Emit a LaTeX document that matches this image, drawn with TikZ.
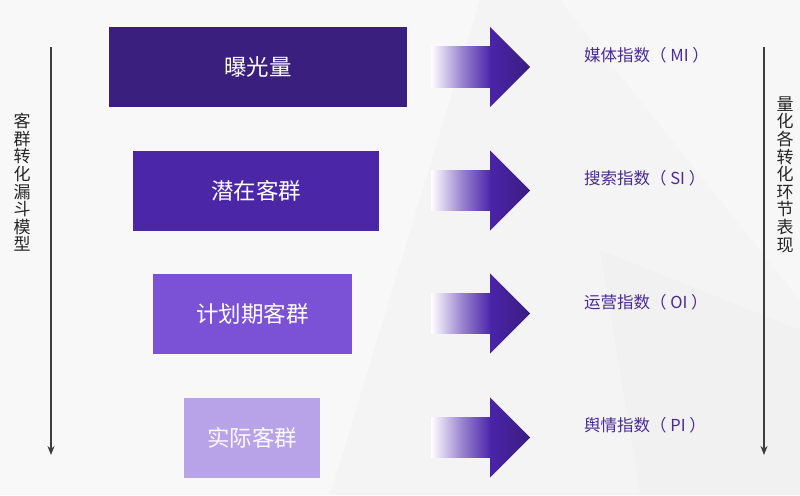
\documentclass[tikz,border=0pt]{standalone}
\usepackage{fontspec}
\setmainfont{Noto Sans CJK SC}
\usetikzlibrary{arrows.meta}
\definecolor{bgc}{HTML}{F4F4F5}
\definecolor{stageA}{HTML}{3A1F7E}
\definecolor{stageB}{HTML}{4B27A8}
\definecolor{stageC}{HTML}{7B52D6}
\definecolor{stageD}{HTML}{B8A3E8}
\definecolor{arrowc}{HTML}{4A24A8}
\definecolor{arrowd}{HTML}{3A1D82}
\definecolor{labelc}{HTML}{4A2A96}
\definecolor{axisc}{HTML}{3E3E40}

\begin{document}
\begin{tikzpicture}[
        x=1pt, y=-1pt,
        stagebox/.style={draw=none, inner sep=0pt, minimum height=80pt, text=white,
            font=\fontsize{22.5}{24}\selectfont},
        index/.style={anchor=west, inner sep=0pt, text=labelc, font=\fontsize{16.5}{18}\selectfont},
        axistext/.style={inner sep=0pt, align=center, text=black!85,
            font=\fontsize{17}{17.6}\selectfont},
        axis/.style={draw=axisc, line width=2pt, -{Stealth[length=9pt, width=7pt]}},
    ]
    % background
    \useasboundingbox (0,0) rectangle (800,495);
    \fill[bgc] (0,0) rectangle (800,495);
    \fill[white, opacity=0.45] (0,0) -- (480,0) -- (330,495) -- (0,495) -- cycle;
    \fill[white, opacity=0.35] (560,0) -- (800,0) -- (800,300) -- cycle;
    \fill[black, opacity=0.012] (600,250) -- (800,330) -- (800,495) -- (640,495) -- cycle;

    % funnel stages
    \node[stagebox, fill=stageA, minimum width=298pt] (expo) at (258,67) {曝光量};
    \node[stagebox, fill=stageB, minimum width=246pt] (latent) at (256,190.5) {潜在客群};
    \node[stagebox, fill=stageC, minimum width=199pt] (plan) at (252.5,313.5) {计划期客群};
    \node[stagebox, fill=stageD, minimum width=136pt, text=white!94!stageD] (actual) at (252,437.5) {实际客群};

    % block arrows
    \foreach \yy in {67,190.5,313.5,437.5}{
        \shade[left color=white, right color=arrowc, middle color=arrowc!55!white]
            (431,\yy-20) rectangle (491,\yy+20);
        \shade[left color=arrowc, right color=arrowd]
            (490,\yy-40) -- (530,\yy) -- (490,\yy+40) -- cycle;
    }

    % indices
    \node[index] (mi) at (584,55) {媒体指数（ MI ）};
    \node[index] (si) at (584,178) {搜索指数（ SI ）};
    \node[index] (oi) at (584,302) {运营指数（ OI ）};
    \node[index] (pi) at (584,425) {舆情指数（ PI ）};

    % side axes
    \coordinate (ltop) at (51,47);
    \coordinate (lbot) at (51,455);
    \coordinate (rtop) at (764,47);
    \coordinate (rbot) at (764,455);
    \draw[axis] (ltop) -- (lbot);
    \draw[axis] (rtop) -- (rbot);
    \node[axistext] (funnel) at (22,182.5) {客\\群\\转\\化\\漏\\斗\\模\\型};
    \node[axistext] (measure) at (785,174.5) {量\\化\\各\\转\\化\\环\\节\\表\\现};
\end{tikzpicture}
\end{document}
